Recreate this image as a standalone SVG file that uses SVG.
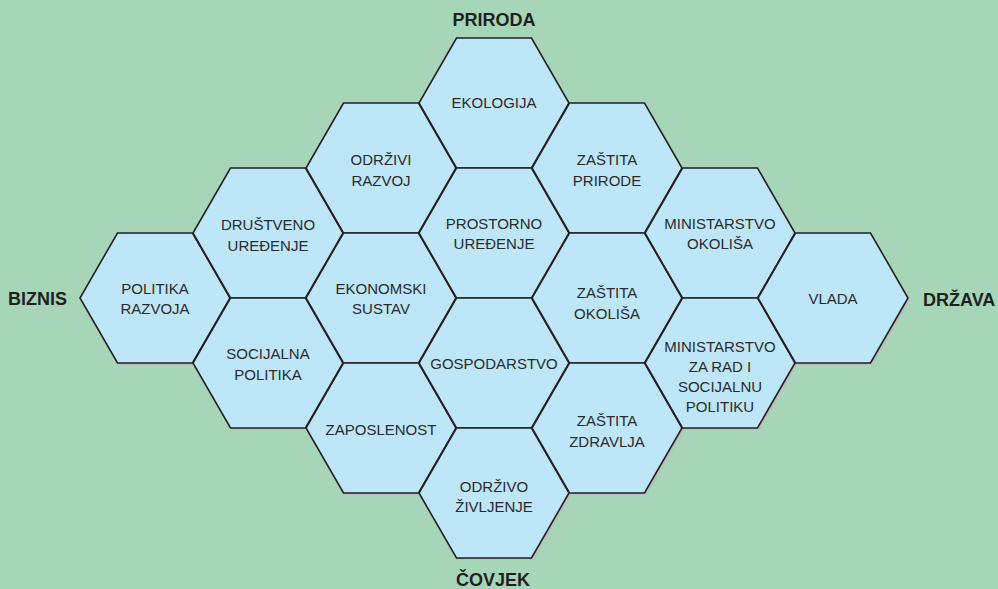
<svg xmlns="http://www.w3.org/2000/svg" width="998" height="589" viewBox="0 0 998 589">
  <defs>
    <polygon id="hex" points="-37.5,-65 37.5,-65 75,0 37.5,65 -37.5,65 -75,0"/>
  </defs>
  <style>
    .bg { fill: #a6d5b8; }
    .shadow { fill: #b9bfbb; }
    .cell { fill: #bde6f8; stroke: #231f20; stroke-width: 1.6; stroke-linejoin: miter; }
    .t { font-family: "Liberation Sans", Arial, sans-serif; font-size: 15px; fill: #2b2b2b; text-anchor: middle; }
    .side { font-family: "Liberation Sans", Arial, sans-serif; font-size: 18px; font-weight: bold; fill: #231f20; }
  </style>
  <rect class="bg" x="0" y="0" width="998" height="589"/>

  <!-- drop shadow under the honeycomb -->
  <g id="shadows" class="shadow" transform="translate(2,2)">
    <use href="#hex" x="155" y="298"/>
    <use href="#hex" x="268" y="233"/>
    <use href="#hex" x="268" y="363"/>
    <use href="#hex" x="381" y="168"/>
    <use href="#hex" x="381" y="298"/>
    <use href="#hex" x="381" y="428"/>
    <use href="#hex" x="494" y="103"/>
    <use href="#hex" x="494" y="233"/>
    <use href="#hex" x="494" y="363"/>
    <use href="#hex" x="494" y="493"/>
    <use href="#hex" x="607" y="168"/>
    <use href="#hex" x="607" y="298"/>
    <use href="#hex" x="607" y="428"/>
    <use href="#hex" x="720" y="233"/>
    <use href="#hex" x="720" y="363"/>
    <use href="#hex" x="833" y="298"/>
  </g>

  <g id="politika-razvoja"><use class="cell" href="#hex" x="155" y="298"/>
    <text class="t" x="155" y="294">POLITIKA</text><text class="t" x="155" y="314">RAZVOJA</text></g>
  <g id="drustveno-uredjenje"><use class="cell" href="#hex" x="268" y="233"/>
    <text class="t" x="268" y="230">DRUŠTVENO</text><text class="t" x="268" y="251">UREĐENJE</text></g>
  <g id="socijalna-politika"><use class="cell" href="#hex" x="268" y="363"/>
    <text class="t" x="268" y="359">SOCIJALNA</text><text class="t" x="268" y="380">POLITIKA</text></g>
  <g id="odrzivi-razvoj"><use class="cell" href="#hex" x="381" y="168"/>
    <text class="t" x="381" y="165">ODRŽIVI</text><text class="t" x="381" y="186">RAZVOJ</text></g>
  <g id="ekonomski-sustav"><use class="cell" href="#hex" x="381" y="298"/>
    <text class="t" x="381" y="294">EKONOMSKI</text><text class="t" x="381" y="314">SUSTAV</text></g>
  <g id="zaposlenost"><use class="cell" href="#hex" x="381" y="428"/>
    <text class="t" x="381" y="435">ZAPOSLENOST</text></g>
  <g id="ekologija"><use class="cell" href="#hex" x="494" y="103"/>
    <text class="t" x="494" y="108">EKOLOGIJA</text></g>
  <g id="prostorno-uredjenje"><use class="cell" href="#hex" x="494" y="233"/>
    <text class="t" x="494" y="229">PROSTORNO</text><text class="t" x="494" y="249">UREĐENJE</text></g>
  <g id="gospodarstvo"><use class="cell" href="#hex" x="494" y="363"/>
    <text class="t" x="494" y="369">GOSPODARSTVO</text></g>
  <g id="odrzivo-zivljenje"><use class="cell" href="#hex" x="494" y="493"/>
    <text class="t" x="494" y="492">ODRŽIVO</text><text class="t" x="494" y="512">ŽIVLJENJE</text></g>
  <g id="zastita-prirode"><use class="cell" href="#hex" x="607" y="168"/>
    <text class="t" x="607" y="165">ZAŠTITA</text><text class="t" x="607" y="186">PRIRODE</text></g>
  <g id="zastita-okolisa"><use class="cell" href="#hex" x="607" y="298"/>
    <text class="t" x="607" y="298">ZAŠTITA</text><text class="t" x="607" y="319">OKOLIŠA</text></g>
  <g id="zastita-zdravlja"><use class="cell" href="#hex" x="607" y="428"/>
    <text class="t" x="607" y="426">ZAŠTITA</text><text class="t" x="607" y="447">ZDRAVLJA</text></g>
  <g id="ministarstvo-okolisa"><use class="cell" href="#hex" x="720" y="233"/>
    <text class="t" x="720" y="229">MINISTARSTVO</text><text class="t" x="720" y="249">OKOLIŠA</text></g>
  <g id="ministarstvo-rad"><use class="cell" href="#hex" x="720" y="363"/>
    <text class="t" x="720" y="352">MINISTARSTVO</text><text class="t" x="720" y="372">ZA RAD I</text>
    <text class="t" x="720" y="392">SOCIJALNU</text><text class="t" x="720" y="412">POLITIKU</text></g>
  <g id="vlada"><use class="cell" href="#hex" x="833" y="298"/>
    <text class="t" x="833" y="304">VLADA</text></g>

  <g id="labels">
    <text class="side" x="494" y="26" text-anchor="middle">PRIRODA</text>
    <text class="side" x="8" y="305">BIZNIS</text>
    <text class="side" x="923" y="306">DRŽAVA</text>
    <text class="side" x="493" y="586" text-anchor="middle">ČOVJEK</text>
  </g>
</svg>
